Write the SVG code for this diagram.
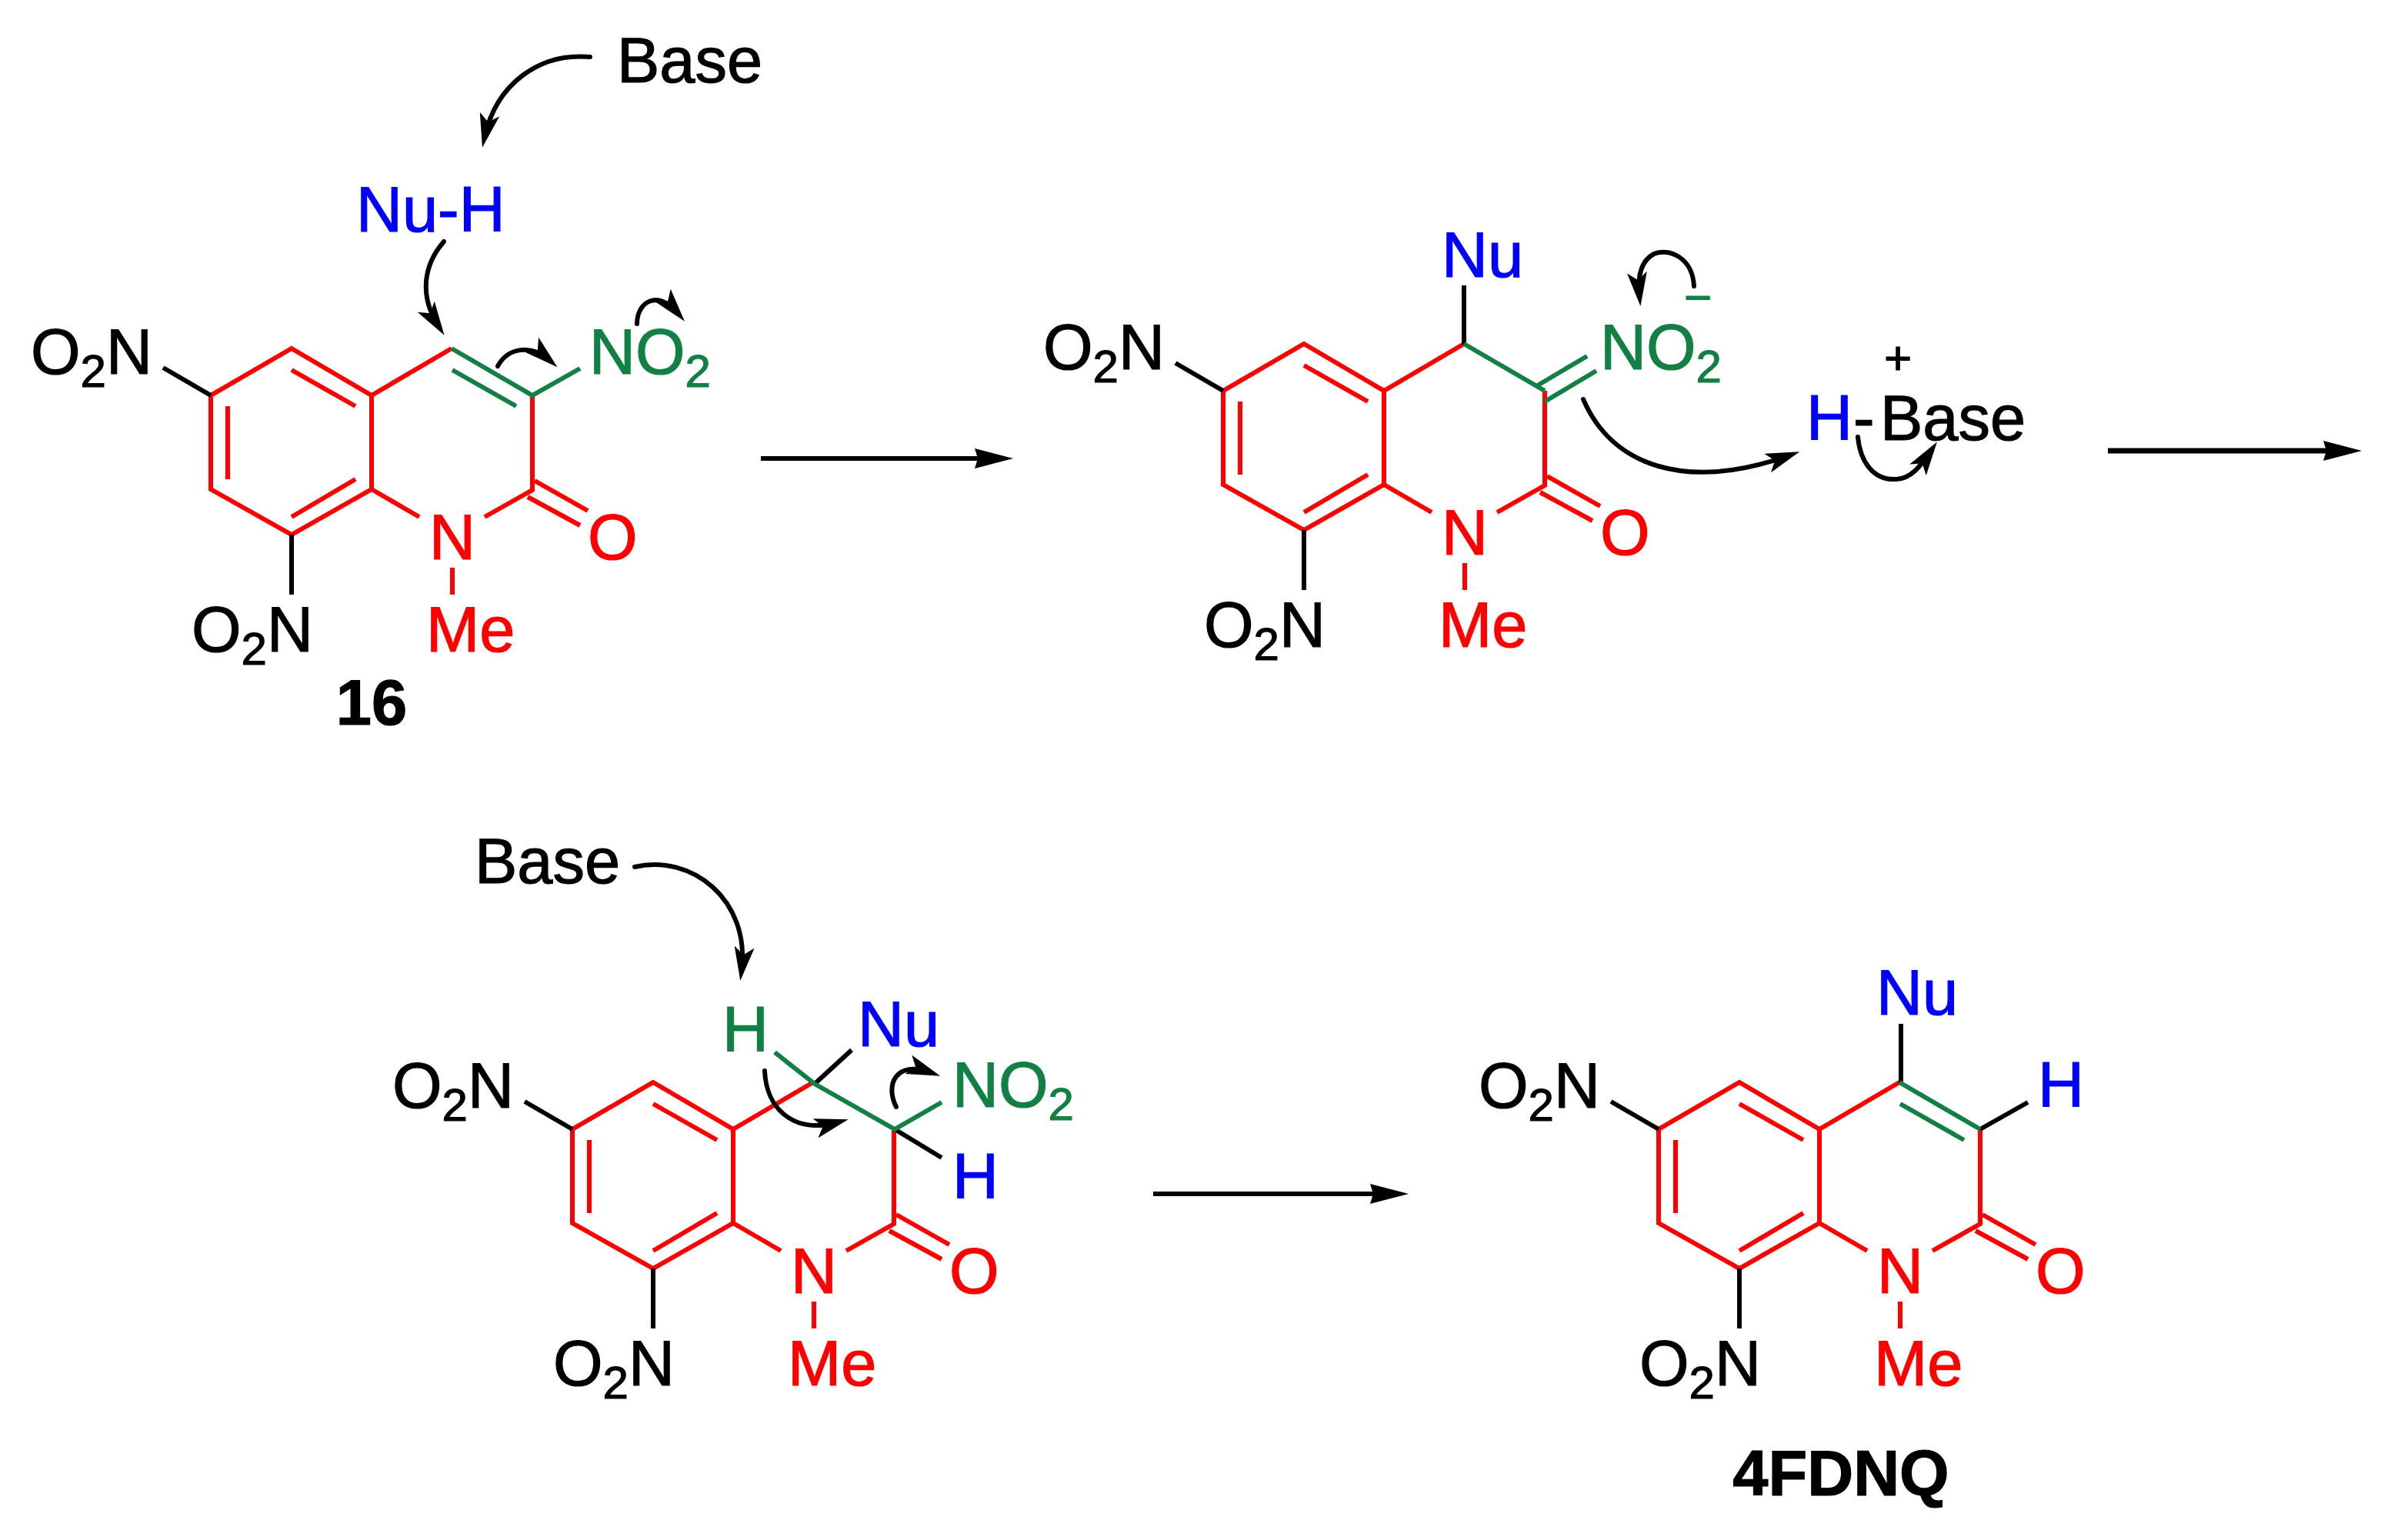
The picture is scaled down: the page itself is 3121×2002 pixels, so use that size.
<svg xmlns="http://www.w3.org/2000/svg" width="3121" height="2002" viewBox="0 0 3121 2002">
<style>
text{font-family:"Liberation Sans",Arial,sans-serif;font-size:83px;stroke-width:1.2px}
.k{fill:#000;stroke:#000}.r{fill:#f00;stroke:#f00}.b{fill:#00f;stroke:#00f}.g{fill:#128045;stroke:#128045}
.bold{font-weight:700}
.sub{font-size:60px}
.lr,.lg,.lk{fill:none;stroke-width:6;stroke-linecap:butt}
.lr{stroke:#f00}.lg{stroke:#128045}.lk{stroke:#000}
.curve{fill:none;stroke:#000;stroke-width:6;stroke-linecap:round}
.straight{stroke:#000}
</style>
<defs>
<marker id="head" markerUnits="userSpaceOnUse" markerWidth="44" markerHeight="26" viewBox="0 0 44 26" refX="30" refY="13" orient="auto">
<path d="M44,13 L0,0 L10,13 L0,26 Z" fill="#000"/>
</marker>
<marker id="long" markerUnits="userSpaceOnUse" markerWidth="50" markerHeight="26" viewBox="0 0 50 26" refX="10" refY="13" orient="auto">
<path d="M50,13 L0,0 L4,13 L0,26 Z" fill="#000"/>
</marker>
<g id="core">
<path class="lr" stroke-linejoin="miter" d="M379,453 L483,514 L483,636 L379,695 L274,636 L274,514 Z"/>
<path class="lr" d="M379,481 L462,528 M379,672 L462,623 M296,528 L296,623 M483,514 L587,453 M483,636 L545,672 M630,672 L692,637 L692,514 M695,625 L764,664 M686,646 L754,683 M588,738 L588,773"/>
<path class="lk" d="M379,695 L379,773 M274,514 L212,478"/>
</g>
</defs>

<g id="mol-16">
<use href="#core"/>
<path class="lg" d="M587,453 L692,514 L754,479 M588,481 L671,528"/>
<text class="k" x="40" y="486">O<tspan class="sub" dy="17">2</tspan><tspan dy="-17">N</tspan></text>
<text class="k" x="249" y="847">O<tspan class="sub" dy="17">2</tspan><tspan dy="-17">N</tspan></text>
<text class="r" x="558" y="727">N</text>
<text class="r" x="764" y="727">O</text>
<text class="r" x="554" y="847">Me</text>
<text class="g" x="766" y="486">NO<tspan class="sub" dy="17">2</tspan></text>
<text class="k bold" x="483" y="942" text-anchor="middle">16</text>
</g>
<g id="reagent-base-1"><text class="k" x="802" y="107">Base</text></g>
<g id="reagent-nuh"><text class="b" x="463" y="301">Nu-H</text></g>

<g id="mol-intermediate-1">
<use href="#core" transform="translate(1316,-6)"/>
<path class="lk" d="M1903,371 L1903,448"/>
<path class="lg" d="M1903,447 L2008,508 M1997,502 L2063,463 M2008,522 L2075,482"/>
<text class="k" x="1356" y="480">O<tspan class="sub" dy="17">2</tspan><tspan dy="-17">N</tspan></text>
<text class="k" x="1565" y="841">O<tspan class="sub" dy="17">2</tspan><tspan dy="-17">N</tspan></text>
<text class="b" x="1874" y="360">Nu</text>
<text class="r" x="1874" y="721">N</text>
<text class="r" x="2080" y="721">O</text>
<text class="r" x="1870" y="841">Me</text>
<text class="g" x="2080" y="480">NO<tspan class="sub" dy="17">2</tspan></text>
<text class="g" x="2189" y="408" style="font-size:62px">−</text>
</g>
<g id="conjugate-acid">
<text class="b" x="2348" y="572">H</text>
<text class="k" x="2409" y="572">-</text>
<text class="k" x="2444" y="572">Base</text>
<text class="k" x="2467" y="486" text-anchor="middle" style="font-size:62px">+</text>
</g>

<g id="mol-intermediate-2">
<use href="#core" transform="translate(470,954)"/>
<path class="lk" d="M1107,1365 L1059,1409 M1163,1468 L1224,1505"/>
<path class="lg" d="M1007,1368 L1059,1409 L1163,1468 L1224,1433"/>
<text class="k" x="510" y="1440">O<tspan class="sub" dy="17">2</tspan><tspan dy="-17">N</tspan></text>
<text class="k" x="719" y="1801">O<tspan class="sub" dy="17">2</tspan><tspan dy="-17">N</tspan></text>
<text class="g" x="939" y="1367">H</text>
<text class="b" x="1115" y="1360">Nu</text>
<text class="g" x="1238" y="1439">NO<tspan class="sub" dy="17">2</tspan></text>
<text class="b" x="1238" y="1558">H</text>
<text class="r" x="1028" y="1681">N</text>
<text class="r" x="1234" y="1681">O</text>
<text class="r" x="1024" y="1801">Me</text>
</g>
<g id="reagent-base-2"><text class="k" x="617" y="1148">Base</text></g>

<g id="mol-4fdnq">
<use href="#core" transform="translate(1882,954)"/>
<path class="lk" d="M2471,1331 L2471,1408 M2574,1468 L2636,1433"/>
<path class="lg" d="M2469,1407 L2574,1468 M2470,1435 L2553,1482"/>
<text class="k" x="1922" y="1440">O<tspan class="sub" dy="17">2</tspan><tspan dy="-17">N</tspan></text>
<text class="k" x="2131" y="1801">O<tspan class="sub" dy="17">2</tspan><tspan dy="-17">N</tspan></text>
<text class="b" x="2439" y="1319">Nu</text>
<text class="b" x="2649" y="1439">H</text>
<text class="r" x="2440" y="1681">N</text>
<text class="r" x="2646" y="1681">O</text>
<text class="r" x="2436" y="1801">Me</text>
<text class="k bold" x="2393" y="1944" text-anchor="middle">4FDNQ</text>
</g>

<g id="connectors">
<path class="straight" stroke-width="6" marker-end="url(#long)" d="M989,596 L1277,596"/>
<path class="straight" stroke-width="7" marker-end="url(#long)" d="M2740,586 L3030,586"/>
<path class="straight" stroke-width="6" marker-end="url(#long)" d="M1499,1552 L1791,1552"/>
<path class="curve" marker-end="url(#head)" d="M767,74 C700,68 645,110 630,178"/>
<path class="curve" marker-end="url(#head)" d="M577,314 C550,345 545,385 570,424"/>
<path class="curve" marker-end="url(#head)" d="M647,476 C660,452 690,447 714,468"/>
<path class="curve" marker-end="url(#head)" d="M828,421 C828,392 855,376 881,407"/>
<path class="curve" marker-end="url(#head)" d="M2202,372 C2200,335 2170,322 2150,330 C2135,338 2128,355 2131,384"/>
<path class="curve" marker-end="url(#head)" d="M2058,519 C2095,605 2190,640 2326,592"/>
<path class="curve" marker-end="url(#head)" d="M2415,568 C2418,600 2435,625 2465,623 C2485,622 2497,605 2510,586"/>
<path class="curve" marker-end="url(#head)" d="M825,1127 C900,1110 975,1170 964,1261"/>
<path class="curve" marker-end="url(#head)" d="M994,1392 C996,1440 1030,1475 1089,1459"/>
<path class="curve" marker-end="url(#head)" d="M1165,1439 C1150,1410 1165,1378 1209,1394"/>
</g>
</svg>
